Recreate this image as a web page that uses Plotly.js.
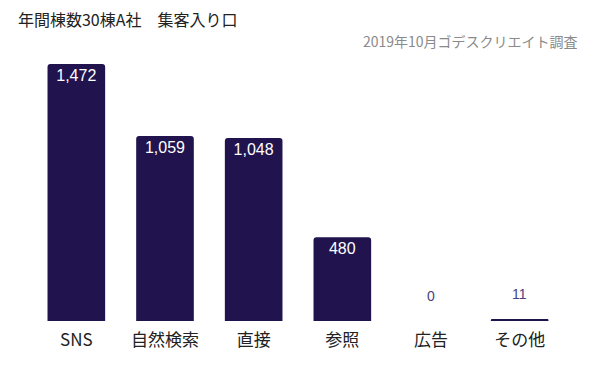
<!DOCTYPE html>
<html><head><meta charset="utf-8">
<script src="https://cdn.plot.ly/plotly-3.0.1.min.js"></script>
<style>body{margin:0;background:#fff}#c{width:597px;height:366px}</style>
</head><body><div id="c"></div>
<script>
const categories = ["SNS","自然検索","直接","参照","広告","その他"];
const values = [1472,1059,1048,480,0,11];
const titleText = "年間棟数30棟A社　集客入り口";
const sourceText = "2019年10月ゴデスクリエイト調査";

const fmt = v => v.toLocaleString("en-US");
const insideThreshold = 100;
const barColor = "#21134e";
const jp = "'Noto Sans CJK JP', 'Noto Sans', sans-serif";

const trace = {
  type: "bar",
  x: categories,
  y: values,
  marker: {color: barColor},
  text: values.map(v => v >= insideThreshold ? fmt(v) : ""),
  textposition: "inside",
  insidetextanchor: "end",
  textangle: 0,
  insidetextfont: {color: "#ffffff", size: 16, family: "Arial, 'Liberation Sans', sans-serif"},
  hoverinfo: "none",
  cliponaxis: false
};

const annotations = [];
values.forEach((v, i) => {
  if (v < insideThreshold) {
    annotations.push({
      x: categories[i], y: v, xref: "x", yref: "y",
      text: fmt(v), showarrow: false, yanchor: "bottom", yshift: 15,
      font: {color: "#46437a", size: 14, family: "Arial, 'Liberation Sans', sans-serif"}
    });
  }
});
annotations.push({
  xref: "paper", yref: "paper", x: 1.03, y: 1.09, xanchor: "right", yanchor: "middle",
  text: sourceText, showarrow: false,
  font: {color: "#8a8a8a", size: 14, family: jp}
});

const layout = {
  width: 597, height: 366,
  margin: {l: 32, r: 33, t: 64, b: 45},
  paper_bgcolor: "#fff", plot_bgcolor: "#fff",
  title: {text: titleText, x: 0.03, xanchor: "left", y: 0.943, yanchor: "middle",
          font: {size: 16, color: "#222", family: jp}},
  bargap: 0.35,
  barcornerradius: 3,
  xaxis: {showgrid: false, zeroline: false, showline: false, ticks: "",
          tickfont: {size: 17, color: "#222", family: jp}, ticklabelstandoff: 7, fixedrange: true},
  yaxis: {visible: false, range: [0, 1472], fixedrange: true},
  annotations: annotations,
  showlegend: false
};

Plotly.newPlot("c", [trace], layout, {displayModeBar: false, staticPlot: true});
</script>
</body></html>
